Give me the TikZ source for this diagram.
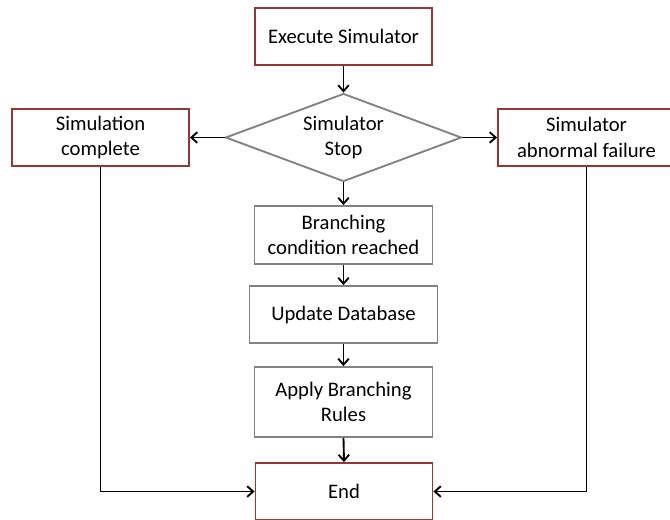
\documentclass[tikz,border=0pt]{standalone}
\usepackage{fontspec}
\setmainfont{Carlito}
\usetikzlibrary{shapes.geometric,arrows.meta}
\definecolor{boxred}{RGB}{155,52,52}
\definecolor{boxgray}{RGB}{130,130,130}

\begin{document}
\begin{tikzpicture}[x=0.75pt,y=0.75pt,yscale=-1,xscale=1,
  redbox/.style={draw=boxred,line width=1.4pt,minimum width=132.75pt,minimum height=42.75pt,align=center,inner sep=0pt},
  graybox/.style={draw=boxgray,line width=1.4pt,minimum width=133.5pt,minimum height=43.5pt,align=center,inner sep=0pt},
  decision/.style={diamond,draw=boxgray,line width=1.4pt,minimum width=177pt,minimum height=66pt,aspect=2.7,inner sep=0pt,align=center},
  link/.style={line width=1.4pt,-{Straight Barb[length=4.5pt,width=8pt]}},
  font=\fontsize{15.5}{19}\selectfont]
%set diagram size to 670 x 519
\clip (0,0) rectangle (670,519);

% Start
\node[redbox] (exec) at (343.5,36.5) {Execute Simulator};
% Decision
\node[decision] (stop) at (343.5,137.5) {Simulator\\Stop};
% Outcomes
\node[redbox] (simdone) at (100.5,137.5) {Simulation\\complete};
\node[redbox] (simfail) at (586.5,137.5) {Simulator\\abnormal failure};
% Branching steps
\node[graybox] (branch) at (343.5,235) {Branching\\condition reached};
\node[graybox,minimum width=141pt,minimum height=42.75pt] (update) at (343.5,314.5) {Update Database};
\node[graybox,minimum height=52.5pt] (rules) at (343.5,402) {Apply Branching\\Rules};
% End
\node[redbox] (end) at (344,491.5) {End};

% Connections
\draw[link] (exec.south) -- (stop.north);
\draw[link] (stop.west) -- (simdone.east);
\draw[link] (stop.east) -- (simfail.west);
\draw[link] (stop.south) -- (branch.north);
\draw[link] (branch) -- (update);
\draw[link] (update) -- (rules);
\draw[link] (rules.south) -- (end.north);
\draw[link] (simdone.south) |- (end.west);
\draw[link] (simfail.south) |- (end.east);

\end{tikzpicture}
\end{document}
